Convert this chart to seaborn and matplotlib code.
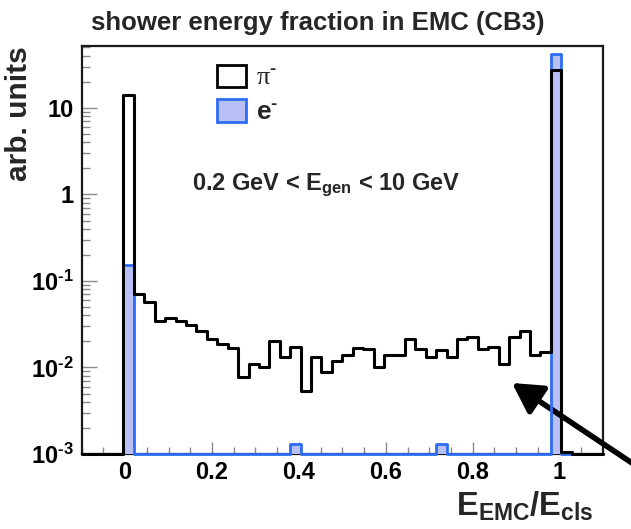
import numpy as np
import pandas as pd
import matplotlib
matplotlib.use("Agg")
import matplotlib.pyplot as plt
from matplotlib.patches import Patch
from matplotlib.ticker import (FixedLocator, FixedFormatter, MultipleLocator,
                               LogLocator, NullFormatter)
import seaborn as sns

# Binning of E_EMC/E_cls: 50 bins over [-0.1, 1.1]
bin_lo, bin_hi, n_bins = -0.1, 1.1, 50

# Normalised bin contents (arb. units), one value per bin
pion = [0, 0, 0, 0, 14.2,
        0.0703, 0.0564, 0.0346, 0.0378, 0.0346, 0.0308, 0.0265, 0.0216,
        0.0186, 0.0166, 0.00769, 0.0109, 0.0100, 0.0203, 0.0131, 0.0173,
        0.00538, 0.0131, 0.00877, 0.0119, 0.0139, 0.0166, 0.0163, 0.0100,
        0.0139, 0.0139, 0.0216, 0.0163, 0.0131, 0.0160, 0.0131, 0.0213,
        0.0228, 0.0163, 0.0173, 0.0109, 0.0228, 0.0265, 0.0139, 0.0152,
        27.2, 0.00106, 0, 0, 0]
electron = [0, 0, 0, 0, 0.154] + [0] * 15 + [0.0013] + [0] * 13 + [0.0013] \
    + [0] * 10 + [42.3] + [0] * 4

x_ticks = [0, 0.2, 0.4, 0.6, 0.8, 1.0]
x_tick_labels = ["0", "0.2", "0.4", "0.6", "0.8", "1"]
y_ticks = [1e-3, 1e-2, 1e-1, 1, 10]
y_tick_labels = [r"10$^{\text{-}3}$", r"10$^{\text{-}2}$",
                 r"10$^{\text{-}1}$", "1", "10"]

y_min, y_max = 1e-3, 52

e_edge = "#2d6cf4"
e_fill = "#b9c0f6"

edges = list(np.linspace(bin_lo, bin_hi, n_bins + 1))
centers = 0.5 * (np.array(edges[:-1]) + np.array(edges[1:]))
# empty bins sit on the lower frame edge of the log axis
df = pd.DataFrame({
    "ratio": centers,
    "pion": np.clip(pion, y_min, None),
    "electron": np.clip(electron, y_min, None),
})

sns.set_theme(style="white")
plt.rcParams["font.family"] = ["Liberation Sans", "DejaVu Sans"]
plt.rcParams["font.weight"] = "bold"
plt.rcParams["mathtext.fontset"] = "custom"
plt.rcParams["mathtext.rm"] = "Liberation Sans:bold"
plt.rcParams["mathtext.it"] = "Liberation Sans:bold"
plt.rcParams["mathtext.bf"] = "Liberation Sans:bold"

fig = plt.figure(figsize=(6.31, 5.29), dpi=100)
ax = fig.add_axes([0.1295, 0.1418, 0.8261, 0.7712])

# electrons: filled histogram plus outline
sns.histplot(data=df, x="ratio", weights="electron", bins=edges,
             element="step", fill=True, color=e_fill, alpha=1, linewidth=0,
             ax=ax, zorder=3)
sns.histplot(data=df, x="ratio", weights="electron", bins=edges,
             element="step", fill=False, color=e_edge, linewidth=2.0,
             ax=ax, zorder=3.2)
# pions: open black outline on top
sns.histplot(data=df, x="ratio", weights="pion", bins=edges,
             element="step", fill=False, color="black", linewidth=2.2,
             ax=ax, zorder=3.5)
for ln in ax.lines:
    ln.set_clip_on(False)

ax.set_yscale("log")
ax.set_xlim(bin_lo, bin_hi)
ax.set_ylim(y_min, y_max)

ax.xaxis.set_major_locator(FixedLocator(x_ticks))
ax.xaxis.set_major_formatter(FixedFormatter(x_tick_labels))
ax.xaxis.set_minor_locator(MultipleLocator(0.05))
ax.yaxis.set_major_locator(FixedLocator(y_ticks))
ax.yaxis.set_major_formatter(FixedFormatter(y_tick_labels))
ax.yaxis.set_minor_locator(LogLocator(base=10, subs=np.arange(2, 10)))
ax.yaxis.set_minor_formatter(NullFormatter())

ax.tick_params(axis="both", which="both", direction="in", top=False,
               right=False, bottom=True, left=True, color="#8a8a8a",
               width=1.0, labelcolor="black", labelsize=17)
ax.tick_params(axis="y", which="major", length=11, pad=6)
ax.tick_params(axis="y", which="minor", length=6)
ax.tick_params(axis="x", which="major", length=9, pad=5)
ax.tick_params(axis="x", which="minor", length=5)
for lab in ax.get_xticklabels() + ax.get_yticklabels():
    lab.set_fontweight("bold")

for sp in ax.spines.values():
    sp.set_visible(True)
    sp.set_color("#1a1a1a")
    sp.set_linewidth(1.6)

ax.set_ylabel("arb. units", fontsize=21.5, fontweight="bold", loc="top")
ax.yaxis.set_label_coords(-0.093, 1.0)
ax.set_xlabel("E$_{EMC}$/E$_{cls}$", fontsize=23.5, fontweight="bold",
              loc="right")
ax.xaxis.set_label_coords(0.982, -0.088)

fig.text(91 / 631, 1 - 30 / 529, "shower energy fraction in EMC (CB3)",
         fontsize=18.5, fontweight="bold", ha="left", va="baseline")

ax.text(0.211, 0.647, "0.2 GeV < E$_{gen}$ < 10 GeV", transform=ax.transAxes,
        fontsize=17, fontweight="bold", ha="left", va="baseline")

handles = [Patch(facecolor="white", edgecolor="black", linewidth=2.0),
           Patch(facecolor=e_fill, edgecolor=e_edge, linewidth=2.0)]
leg = ax.legend(handles, [r"π$^{\text{-}}$", r"e$^{\text{-}}$"],
                loc="upper left",
                bbox_to_anchor=(0.24, 0.98), frameon=False, fontsize=19,
                handlelength=1.1, handleheight=0.95, handletextpad=0.35,
                labelspacing=0.35, borderaxespad=0.0)
leg.get_texts()[0].set_fontfamily("Liberation Serif")
leg.get_texts()[0].set_fontweight("normal")

ax.annotate("", xy=(512 / 631, 1 - 383 / 529), xycoords="figure fraction",
            xytext=(1.08, 1 - 496 / 529), textcoords="figure fraction",
            arrowprops=dict(arrowstyle="-|>,head_length=0.75,head_width=0.42",
                            color="black", lw=4.0, mutation_scale=24,
                            shrinkA=0, shrinkB=0),
            annotation_clip=False)

fig.savefig("out.png", dpi=100)
